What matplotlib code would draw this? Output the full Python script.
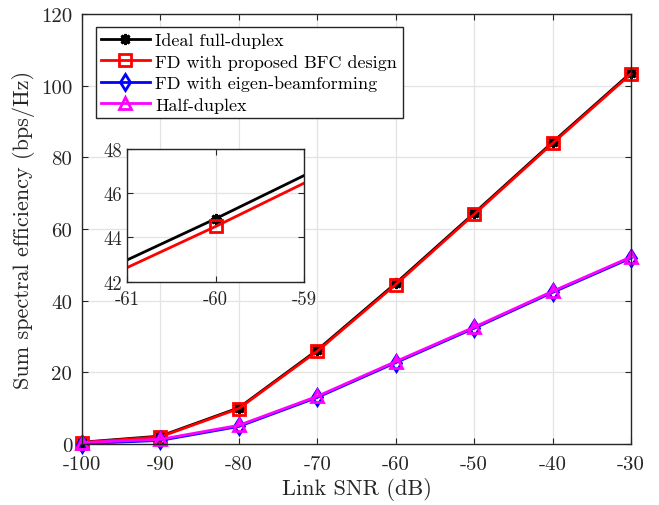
import matplotlib
matplotlib.use("Agg")
import matplotlib.pyplot as plt

plt.rcParams["font.family"] = ["cmr10", "DejaVu Serif"]
plt.rcParams["mathtext.fontset"] = "cm"
plt.rcParams["axes.unicode_minus"] = False
plt.rcParams["axes.formatter.use_mathtext"] = True

# Link SNR sweep and sum spectral efficiency per scheme
snr_db = [-100, -90, -80, -70, -60, -50, -40, -30]
ideal_fd = [0.5, 2.2, 10.1, 26.2, 44.85, 64.4, 84.2, 103.6]
fd_bfc = [0.4, 2.0, 9.9, 25.9, 44.5, 64.1, 83.9, 103.3]
fd_eigen = [0.1, 1.0, 4.9, 13.0, 22.7, 32.3, 42.3, 51.9]
half_duplex = [0.4, 1.3, 5.2, 13.3, 23.0, 32.6, 42.6, 52.2]

labels = ["Ideal full-duplex", "FD with proposed BFC design",
          "FD with eigen-beamforming", "Half-duplex"]
xticks = [-100, -90, -80, -70, -60, -50, -40, -30]
yticks = [0, 20, 40, 60, 80, 100, 120]
inset_xticks = [-61, -60, -59]
inset_yticks = [42, 44, 46, 48]

axis_col = "#262626"
grid_col = "#e3e3e3"

styles = [
    dict(color="black", marker=(8, 2, 0), markersize=8, markeredgewidth=2.0),
    dict(color="red", marker="s", markersize=8.5, markerfacecolor="none", markeredgewidth=2.0),
    dict(color="blue", marker="d", markersize=8, markerfacecolor="none", markeredgewidth=2.0),
    dict(color="magenta", marker="^", markersize=9, markerfacecolor="none", markeredgewidth=2.0),
]
series = [ideal_fd, fd_bfc, fd_eigen, half_duplex]

fig = plt.figure(figsize=(6.59, 5.06), dpi=100)
ax = fig.add_axes([0.1244, 0.1206, 0.8331, 0.8498])


def style_axes(a, fs):
    for s in a.spines.values():
        s.set_color(axis_col)
        s.set_linewidth(1.0)
    a.tick_params(direction="in", top=True, right=True, length=4,
                  width=0.8, color=axis_col, labelsize=fs, labelcolor=axis_col)
    a.grid(True, color=grid_col, linewidth=0.9)
    a.set_axisbelow(True)


for y, lab, st in zip(series, labels, styles):
    ax.plot(snr_db, y, linewidth=2.0, label=lab, clip_on=False, **st)

ax.set_xlim(-100, -30)
ax.set_ylim(0, 120)
ax.set_xticks(xticks)
ax.set_xticklabels([str(v) for v in xticks])
ax.set_yticks(yticks)
ax.set_yticklabels([str(v) for v in yticks])
style_axes(ax, 15)
ax.tick_params(axis="x", pad=8)
ax.tick_params(axis="y", pad=7)
ax.set_xlabel("Link SNR (dB)", fontsize=16, color=axis_col, labelpad=3)
ax.set_ylabel("Sum spectral efficiency (bps/Hz)", fontsize=16, color=axis_col, labelpad=4)

leg = ax.legend(loc="upper left", bbox_to_anchor=(0.025, 0.9705), fontsize=13,
                handlelength=2.7, handletextpad=0.3, borderpad=0.3,
                labelspacing=0.32, fancybox=False, framealpha=1.0,
                borderaxespad=0.0)
leg.get_frame().set_edgecolor(axis_col)
leg.get_frame().set_linewidth(1.0)

# Zoomed view around -60 dB
ins = fig.add_axes([0.193, 0.4413, 0.2686, 0.2622])
for y, st in zip(series, styles):
    ins.plot(snr_db, y, linewidth=2.0, **st)
ins.set_xlim(-61, -59)
ins.set_ylim(42, 48)
ins.set_xticks(inset_xticks)
ins.set_xticklabels([str(v) for v in inset_xticks])
ins.set_yticks(inset_yticks)
ins.set_yticklabels([str(v) for v in inset_yticks])
style_axes(ins, 13.5)
ins.tick_params(axis="x", pad=6)

fig.savefig("out.png", dpi=100)
